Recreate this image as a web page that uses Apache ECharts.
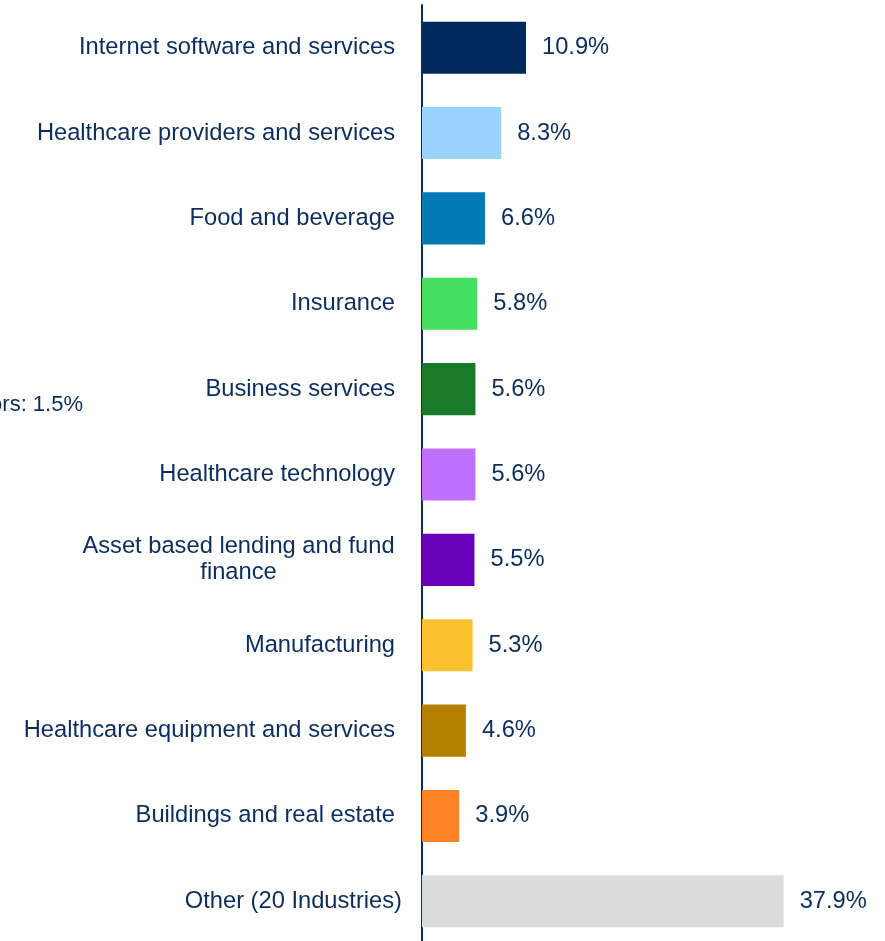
<!DOCTYPE html>
<html><head><meta charset="utf-8">
<script src="https://cdn.jsdelivr.net/npm/echarts@6/dist/echarts.min.js"></script>
<style>html,body{margin:0;padding:0;background:#fff;overflow:hidden}#c{width:885px;height:944px}</style>
</head><body><div id="c"></div>
<script>
const categories = [
  'Internet software and services',
  'Healthcare providers and services',
  'Food and beverage',
  'Insurance',
  'Business services',
  'Healthcare technology',
  'Asset based lending and fund\nfinance',
  'Manufacturing',
  'Healthcare equipment and services',
  'Buildings and real estate',
  'Other (20 Industries)'
];
const values = [10.9, 8.3, 6.6, 5.8, 5.6, 5.6, 5.5, 5.3, 4.6, 3.9, 37.9];
const colors = ['#012a5c', '#99d3ff', '#0079b4', '#45e060', '#1a7a2a', '#c070ff', '#6a00b8', '#fbc12e', '#b38000', '#ff8125', '#dcdcdc'];
const sideNote = 'ors: 1.5%';

const textColor = '#0b2d5e';
const FF = '"Liberation Sans", Arial';
const FS = 23.7;
const chart = echarts.init(document.getElementById('c'), null, {renderer: 'canvas'});
chart.setOption({
  animation: false,
  grid: {left: 422, top: 5, bottom: 0, right: 5},
  xAxis: {type: 'value', min: 0, max: 48, show: false},
  yAxis: {
    type: 'category', inverse: true, data: categories,
    axisLine: {show: true, lineStyle: {color: '#0b2d5e', width: 2}},
    axisTick: {show: false},
    axisLabel: {
      margin: 20, color: textColor, fontFamily: FF, fontSize: FS,
      formatter: function (v) {
        if (v.indexOf('Other') === 0) return '{a|' + v + '}';
        const lines = v.split('\n');
        if (lines.length > 1) return lines.map(l => '{c|' + l + '}{s|}').join('\n');
        return '{a|' + v + '}{s|}';
      },
      rich: {
        a: {color: textColor, fontFamily: FF, fontSize: FS},
        c: {color: textColor, fontFamily: FF, fontSize: FS, width: 313, align: 'center', lineHeight: 26},
        s: {width: 7}
      }
    }
  },
  series: [{
    type: 'bar', barWidth: '61%',
    data: values.map((v, i) => ({value: v, itemStyle: {color: colors[i]}})),
    label: {
      show: true, position: 'right', distance: 16, color: textColor,
      fontFamily: FF, fontSize: FS,
      formatter: p => p.value.toFixed(1) + '%'
    }
  }],
  graphic: [{
    type: 'text', right: 885 - 83, top: 394,
    style: {text: sideNote, fill: textColor, font: '22px "Liberation Sans", Arial', textAlign: 'right'}
  }]
});
</script></body></html>
